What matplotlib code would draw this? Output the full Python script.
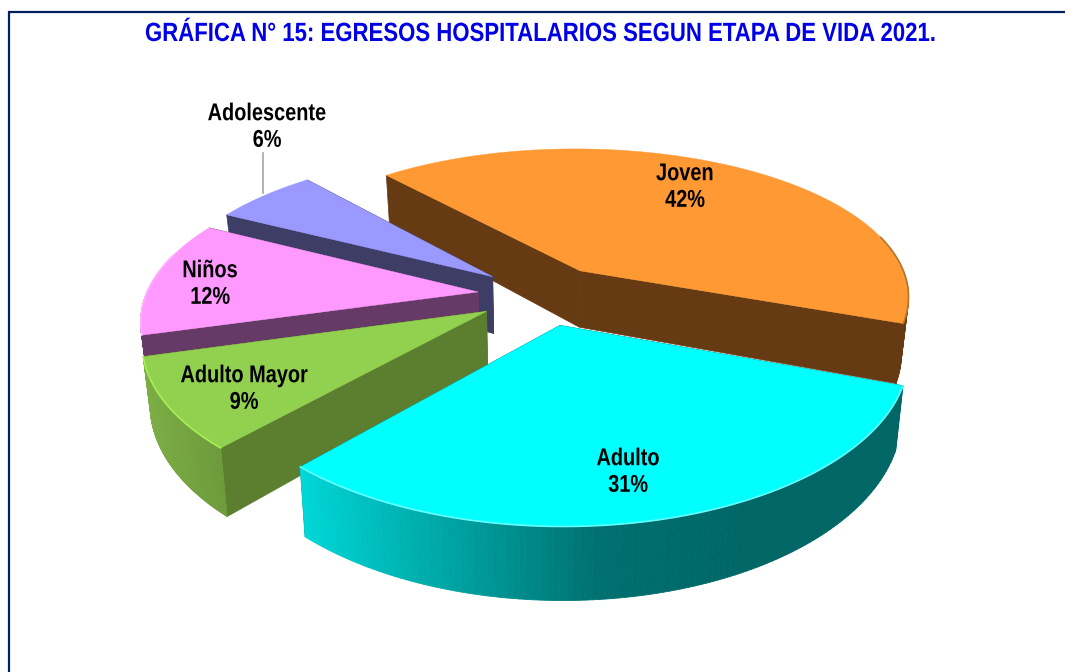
#!/usr/bin/env python3
"""Exploded 3D-looking pie of hospital discharges by life stage."""

import numpy as np
import matplotlib

matplotlib.use("Agg")
import matplotlib.pyplot as plt
import matplotlib.patheffects as pe
from matplotlib.collections import PolyCollection
from matplotlib.colors import to_rgb
from matplotlib.transforms import Affine2D

# Data
categories = ["Joven", "Adulto", "Adulto Mayor", "Niños", "Adolescente"]
percentages = [42, 31, 9, 12, 6]
title = "GRÁFICA N° 15: EGRESOS HOSPITALARIOS SEGUN ETAPA DE VIDA 2021."

# Styles, same order as categories
top_colors = ["#FF9933", "#00FFFF", "#92D050", "#FF99FF", "#9999FF"]
side_colors = ["#663A12", "#006666", "#5B7F2F", "#663A66", "#3D3D66"]
rim_colors = ["#B8742A", "#66FFFF", "#A8F050", "#FFB0FF", "#B0B0FF"]
wall_stops = [
    ["#663A12", "#663A12"],
    ["#00D8D8", "#00A4A4", "#007070", "#006666", "#006666"],
    ["#7CAE45", "#6E9A3C"],
    ["#663A66", "#663A66"],
    ["#3D3D66", "#3D3D66"],
]
label_xy = [(685, 187), (628, 472), (244, 389), (210, 284), (267, 127)]
draw_order = [0, 4, 3, 2, 1]

# Projection settings, in pixels
START_ANGLE = 131.0
X0, Y0 = 543.5, 295.0
RADIUS = 332.0
EXPLODE = 66.0
TILT = 0.458
DIST = 1830.0
X_PERSP = 0.9
HEIGHT = 58.0
BOTTOM_SHRINK = 0.98


class Narrow(pe.AbstractPathEffect):
    # the reference uses a condensed face, squeeze each line about its centre
    def __init__(self, factor):
        super().__init__()
        self.factor = factor

    def draw_path(self, renderer, gc, tpath, affine, rgbFace=None):
        c = tpath.get_extents().x0 + tpath.get_extents().width / 2
        squeeze = Affine2D().translate(-c, 0).scale(self.factor, 1).translate(c, 0)
        renderer.draw_path(gc, tpath, squeeze + affine, rgbFace)


def project(x, z, bottom=False):
    s = DIST / (DIST - z)
    sx = 1 + (s - 1) * X_PERSP
    px = x * sx
    py = TILT * z * s
    if bottom:
        return X0 + px * BOTTOM_SHRINK, Y0 + py + HEIGHT * s
    return X0 + px, Y0 + py


def slice_world(a0, a1, n=120):
    # a0 > a1, angles run clockwise in degrees
    mid = np.radians((a0 + a1) / 2)
    ox, oz = EXPLODE * np.cos(mid), -EXPLODE * np.sin(mid)
    t = np.radians(np.linspace(a0, a1, n))
    return ox, oz, ox + RADIUS * np.cos(t), oz - RADIUS * np.sin(t), t


def interp_color(stops, f):
    rgb = np.array([to_rgb(c) for c in stops])
    pos = np.linspace(0, 1, len(stops))
    return [float(np.interp(f, pos, rgb[:, i])) for i in range(3)]


fig = plt.figure(figsize=(10.65, 6.72), dpi=100)
ax = fig.add_axes([0, 0, 1, 1])
ax.set_xlim(0, 1065)
ax.set_ylim(672, 0)
ax.axis("off")

# Frame
ax.plot([9, 9, 1065], [672, 12, 12], color="#002060", lw=1.6, solid_joinstyle="miter")

ax.text(540, 34, title, ha="center", va="center", color="#0000E6", fontsize=19,
        fontweight="bold", family="Liberation Sans", path_effects=[Narrow(0.84)])

# Slice angles come straight from the percentages
fractions = np.array(percentages) / sum(percentages)
ends = START_ANGLE - np.cumsum(fractions) * 360
starts = np.concatenate([[START_ANGLE], ends[:-1]])

for i in draw_order:
    ox, oz, xs, zs, t = slice_world(starts[i], ends[i])

    # Cut faces
    for k in (0, -1):
        ax_pts = [
            project(ox, oz),
            project(xs[k], zs[k]),
            project(xs[k], zs[k], bottom=True),
            project(ox, oz, bottom=True),
        ]
        ax.fill(*zip(*ax_pts), color=side_colors[i], lw=0.5)

    # Outer wall, only the part that faces the viewer
    front = np.where(np.sin(t) < 0.02)[0]
    if len(front) > 1:
        tx, ty = project(xs[front], zs[front])
        bx, by = project(xs[front], zs[front], bottom=True)
        quads, cols = [], []
        xmin, xmax = tx.min(), tx.max()
        for j in range(len(front) - 1):
            quads.append([(tx[j], ty[j]), (tx[j + 1], ty[j + 1]),
                          (bx[j + 1], by[j + 1]), (bx[j], by[j])])
            cols.append((tx[j] - xmin) / (xmax - xmin))
        cols = np.array(cols)
        # wall colour runs from the screen-left end to the right end
        colors = [interp_color(wall_stops[i], c) for c in cols]
        ax.add_collection(PolyCollection(quads, facecolors=colors, edgecolors=colors, linewidths=0.6))

    # Top face, with a bevel line on the near part of the rim
    px, py = project(xs, zs)
    ax_x, ax_y = project(ox, oz)
    ax.fill(np.r_[ax_x, px], np.r_[ax_y, py], color=top_colors[i], lw=0.3)
    near = np.sin(t) < 0.25
    if near.sum() > 1:
        ax.plot(px[near], py[near], color=rim_colors[i], lw=1.2, solid_capstyle="round")

# Leader line of the small slice
ax.plot([263, 263], [153, 193], color="#A6A6A6", lw=1.2)

for name, pct, (lx, ly) in zip(categories, percentages, label_xy):
    ax.text(lx, ly, f"{name}\n{pct}%", ha="center", va="center", color="black",
            fontsize=17.5, fontweight="bold", linespacing=1.2,
            family="Liberation Sans", path_effects=[Narrow(0.82)])

fig.savefig("out.png", dpi=100)
